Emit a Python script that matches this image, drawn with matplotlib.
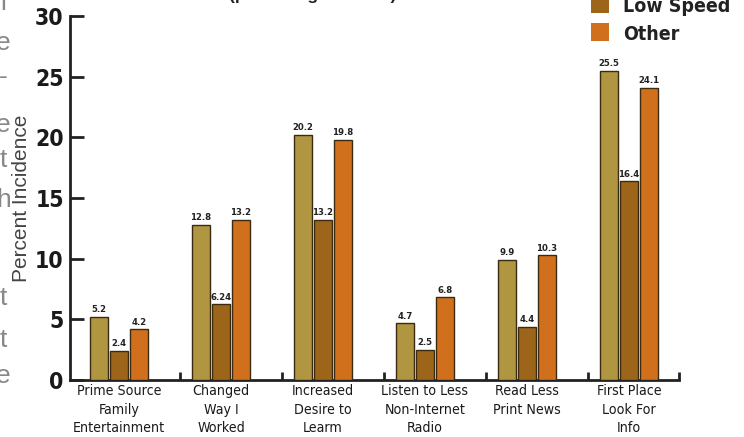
import matplotlib
matplotlib.use("Agg")
import matplotlib.pyplot as plt
import numpy as np
from matplotlib.patches import Rectangle

categories = ["Prime Source\nFamily\nEntertainment", "Changed\nWay I\nWorked",
              "Increased\nDesire to\nLearm", "Listen to Less\nNon-Internet\nRadio",
              "Read Less\nPrint News", "First Place\nLook For\nInfo"]
series_names = ["High Speed", "Low Speed", "Other"]
high = [5.2, 12.8, 20.2, 4.7, 9.9, 25.5]
low = [2.4, 6.24, 13.2, 2.5, 4.4, 16.4]
other = [4.2, 13.2, 19.8, 6.8, 10.3, 24.1]
yticks = [0, 5, 10, 15, 20, 25, 30]

colors = ["#B09640", "#9C6519", "#D0701D"]
edge = "#3a2a12"

COND = dict(family="DejaVu Sans", stretch="condensed")
REG = ["Liberation Sans", "DejaVu Sans"]

W, H = 744, 437
fig = plt.figure(figsize=(W/100, H/100), dpi=100)
ax = fig.add_axes([70/W, 1-380/H, (679-70)/W, (380-16)/H])

x = np.arange(len(categories))
bw = 0.176
step = 0.196
for k, vals in enumerate([high, low, other]):
    pos = x + (k-1)*step
    ax.bar(pos, vals, width=bw, color=colors[k], edgecolor=edge, linewidth=1.0, zorder=3)
    for p, v in zip(pos, vals):
        ax.text(p, v + 0.2, str(v), ha="center", va="bottom", fontsize=6.8,
                fontweight="bold", color="#222222", **COND)

ax.set_xlim(-0.48, 5.49)
ax.set_ylim(0, 30)
for s in ["top", "right"]:
    ax.spines[s].set_visible(False)
for s in ["left", "bottom"]:
    ax.spines[s].set_linewidth(2)
    ax.spines[s].set_color("#222222")

ax.set_yticks(yticks)
ax.set_yticklabels([str(t) for t in yticks], fontsize=16.5, fontweight="bold", **COND)
ax.tick_params(axis="y", direction="in", length=10, width=2, color="#222222", pad=4.5, labelcolor="#1a1a1a")

ax.set_xticks(x)
ax.set_xticklabels(categories, fontsize=10.2, linespacing=1.42, color="#1a1a1a", **COND)
ax.tick_params(axis="x", which="major", length=0, pad=3)
ax.set_xticks(list(np.arange(5) + 0.6) + [5.49], minor=True)
ax.tick_params(axis="x", which="minor", direction="in", length=6, width=2, color="#222222")

ax.set_ylabel("Percent Incidence", family=REG, fontsize=15, color="#444444")
ax.yaxis.set_label_coords(-0.064, 0.5)

# partial title at top (mostly cut off)
fig.text(229/W, 1 - 0/H, "(percentage of total)", ha="left", va="baseline",
         family=REG, fontsize=12.5, fontweight="bold", color="#222222")

# legend (top entry cut off)
leg_items = [(series_names[1], colors[1], 12), (series_names[2], colors[2], 40)]
for name, col, base in leg_items:
    fig.patches.append(Rectangle((591/W, 1 - (base+1)/H), 18/W, 18/H,
                                 transform=fig.transFigure, facecolor=col, edgecolor="none"))
    fig.text(623/W, 1 - base/H, name, ha="left", va="baseline", fontsize=14,
             fontweight="bold", color="#222222", **COND)

# cut-off text column on the left
left_chars = [("l", 10), ("e", 50), ("-", 84), ("e", 132), ("t", 167), ("h", 207),
              ("t", 305), ("t", 347), ("e", 383)]
for ch, yb in left_chars:
    fig.text(3/W, 1 - yb/H, ch, ha="center", va="baseline", family=REG,
             fontsize=19, color="#888888")

fig.savefig("out.png", dpi=100)
